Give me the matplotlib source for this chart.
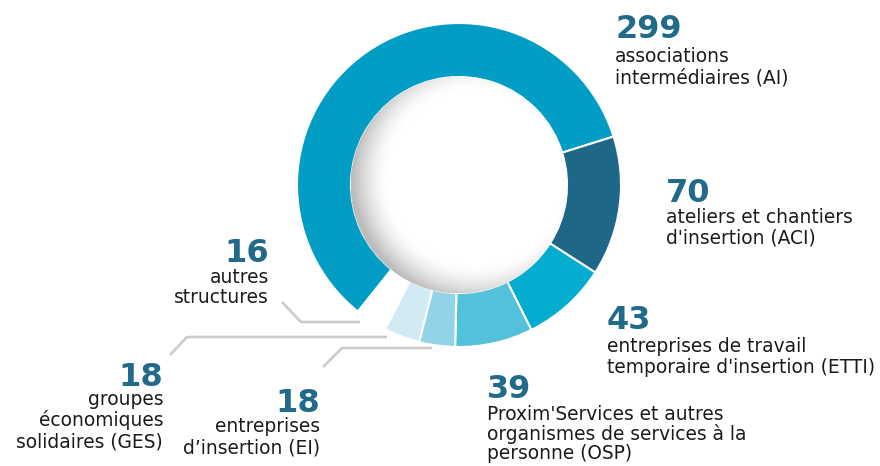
import numpy as np
import matplotlib
matplotlib.use("Agg")
import matplotlib.pyplot as plt
from matplotlib.patches import Circle

# ---------------- data ----------------
categories = ["AI", "ACI", "ETTI", "OSP", "EI", "GES", "autres"]
values = [299, 70, 43, 39, 18, 18, 16]
number_labels = ["299", "70", "43", "39", "18", "18", "16"]
label_lines = [
    ["associations", "intermédiaires (AI)"],
    ["ateliers et chantiers", "d'insertion (ACI)"],
    ["entreprises de travail", "temporaire d'insertion (ETTI)"],
    ["Proxim'Services et autres", "organismes de services à la", "personne (OSP)"],
    ["entreprises", "d\u2019insertion (EI)"],
    ["groupes", "économiques", "solidaires (GES)"],
    ["autres", "structures"],
]
colors = ["#029DC4", "#1F6787", "#02ADCF", "#53C1DB", "#93D3E7", "#D1EAF4", "#FFFFFF"]

# ---------------- layout (pixel coordinates, y downward) ----------------
W, H = 880, 466
def Y(y):
    return H - y

cx, cy = 459, 185
r_out, r_in = 162, 108

# anchor x, ha, number baseline, first line baseline, line step
text_layout = [
    (615, "left", 38, 62, 21),
    (666, "left", 202, 223, 21),
    (607, "left", 329, 352, 21),
    (487, "left", 398, 420, 19.5),
    (320, "right", 412, 432, 21),
    (163, "right", 386, 405, 21.5),
    (269, "right", 262, 283, 20),
]
leaders = [
    [(282, 302), (301, 322), (360, 322)],
    [(170, 355), (187, 337), (387, 337)],
    [(323, 367), (342, 348), (432, 348)],
]

fig = plt.figure(figsize=(W / 100, H / 100), dpi=100)
ax = fig.add_axes([0, 0, 1, 1])

wedges, _ = ax.pie(values, colors=colors, startangle=231.4, counterclock=False,
                   center=(cx, Y(cy)), radius=r_out,
                   wedgeprops=dict(width=r_out - r_in, edgecolor="white", linewidth=1.5))
ax.set_xlim(0, W)
ax.set_ylim(0, H)
ax.set_aspect("equal")
ax.axis("off")

# shaded inner disk
n = 400
xs = np.linspace(cx - r_in, cx + r_in, n)
ys = np.linspace(Y(cy) - r_in, Y(cy) + r_in, n)
XX, YY = np.meshgrid(xs, ys)
ox, oy = cx + 0.16 * r_in, Y(cy) + 0.07 * r_in
t = np.hypot(XX - ox, YY - oy) / r_in
shade = 1 - 0.26 * np.clip((t - 0.82) / 0.32, 0, 1) ** 1.6
img = np.dstack([shade, shade, shade])
im = ax.imshow(img, extent=(cx - r_in, cx + r_in, Y(cy) - r_in, Y(cy) + r_in),
               origin="lower", zorder=3, interpolation="bilinear")
clip = Circle((cx, Y(cy)), r_in + 0.5, transform=ax.transData)
im.set_clip_path(clip)
ax.set_xlim(0, W)
ax.set_ylim(0, H)

# leader lines
for pts in leaders:
    ax.plot([p[0] for p in pts], [Y(p[1]) for p in pts], color="#CBCBCB",
            lw=1.9, solid_capstyle="butt", zorder=2)

num_color = "#216A89"
for num, lines, (x, ha, nb, lb, step) in zip(number_labels, label_lines, text_layout):
    ax.text(x, Y(nb), num, ha=ha, va="baseline", fontsize=23, fontweight="bold",
            color=num_color, family="DejaVu Sans")
    for i, line in enumerate(lines):
        ax.text(x, Y(lb + i * step), line, ha=ha, va="baseline", fontsize=13.4,
                color="#1A1A1A", family="DejaVu Sans")

fig.savefig("out.png", dpi=100, facecolor="white")
